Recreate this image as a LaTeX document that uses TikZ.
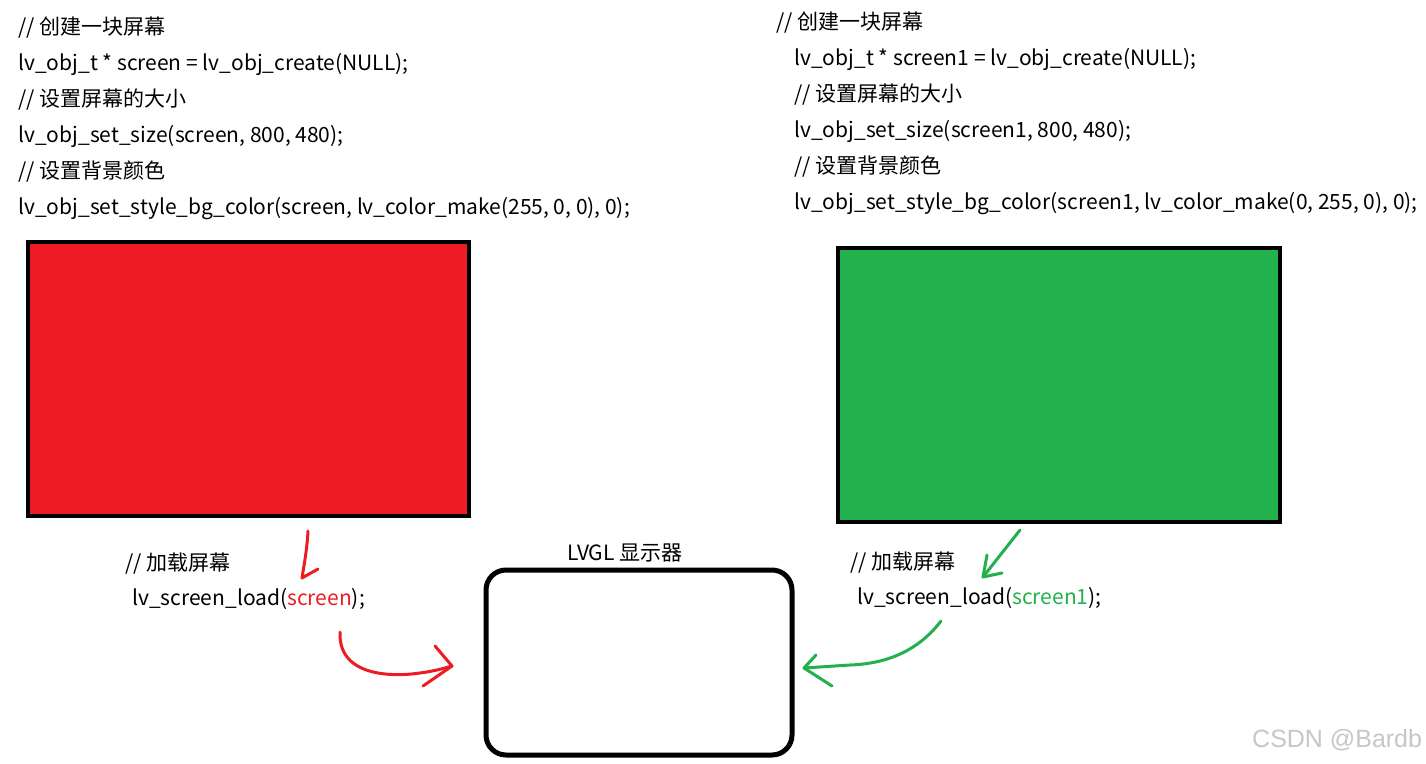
\documentclass[tikz,border=0pt]{standalone}
\usepackage{fontspec}
\setmainfont{Noto Sans CJK SC}
\newfontfamily\wmfont{Liberation Sans}
\definecolor{pred}{HTML}{ED1C24}
\definecolor{pgreen}{HTML}{22B14C}
\begin{document}
\begin{tikzpicture}[x=1pt,y=-1pt,
  code/.style={anchor=base west,inner sep=0pt,font=\fontsize{21}{25}\selectfont},
  screenbox/.style={draw=black,line width=4pt},
  hand/.style={line width=3pt,line cap=round,line join=round}]
\useasboundingbox[fill=white] (0,0) rectangle (1426,763);
% left code
\node[code] (l1) at (18,34) {// 创建一块屏幕};
\node[code] (l2) at (18,70) {lv\_obj\_t * screen = lv\_obj\_create(NULL);};
\node[code] (l3) at (18,106) {// 设置屏幕的大小};
\node[code] (l4) at (18,142) {lv\_obj\_set\_size(screen, 800, 480);};
\node[code] (l5) at (18,178) {// 设置背景颜色};
\node[code] (l6) at (18,214) {lv\_obj\_set\_style\_bg\_color(screen, lv\_color\_make(255, 0, 0), 0);};
% right code
\node[code] (r1) at (776,29) {// 创建一块屏幕};
\node[code] (r2) at (794,65) {lv\_obj\_t * screen1 = lv\_obj\_create(NULL);};
\node[code] (r3) at (794,101) {// 设置屏幕的大小};
\node[code] (r4) at (794,137) {lv\_obj\_set\_size(screen1, 800, 480);};
\node[code] (r5) at (794,173) {// 设置背景颜色};
\node[code] (r6) at (794,209) {lv\_obj\_set\_style\_bg\_color(screen1, lv\_color\_make(0, 255, 0), 0);};
% screens
\draw[screenbox,fill=pred] (28,242) rectangle (469,516);
\node[inner sep=0pt] (redscr) at (248.5,379) {};
\draw[screenbox,fill=pgreen] (838,248) rectangle (1280,522);
\node[inner sep=0pt] (greenscr) at (1059,385) {};
% display
\draw[line width=5pt,rounded corners=20pt] (486,570) rectangle (792,755);
\node[code,anchor=base] (lvgl) at (625,560) {LVGL 显示器};
% load texts
\node[code] (ll1) at (125,570) {// 加载屏幕};
\node[code] (ll2) at (132,605) {lv\_screen\_load(\textcolor{pred}{screen});};
\node[code] (rl1) at (850,569) {// 加载屏幕};
\node[code] (rl2) at (857,604) {lv\_screen\_load(\textcolor{pgreen}{screen1});};
% red arrows
\coordinate (ra1) at (308,531);
\coordinate (ra2) at (302,578);
\coordinate (ra3) at (318,569);
\draw[hand,pred] (ra1) .. controls (307,550) and (304,565) .. (ra2) -- (ra3);
\coordinate (rb1) at (340,632);
\coordinate (rb2) at (452,666);
\draw[hand,pred] (rb1) .. controls (338,680) and (400,676) .. (420,673) .. controls (435,671) and (445,668) .. (rb2);
\draw[hand,pred] (435,646) -- (rb2) -- (423,686);
% green arrows
\coordinate (ga1) at (1020,530);
\coordinate (ga2) at (983,577);
\draw[hand,pgreen] (ga1) -- (ga2);
\draw[hand,pgreen] (987,555) -- (ga2) -- (1002,573);
\coordinate (gb1) at (941,621);
\coordinate (gb2) at (804,668);
\draw[hand,pgreen] (gb1) .. controls (915,655) and (880,664) .. (850,665) -- (gb2);
\draw[hand,pgreen] (816,655) -- (gb2) -- (832,686);
% watermark
\node[anchor=base west,inner sep=0pt,font=\wmfont\fontsize{25}{29}\selectfont,text=black!22] (wm) at (1252,747) {CSDN @Bardb};
\end{tikzpicture}
\end{document}
